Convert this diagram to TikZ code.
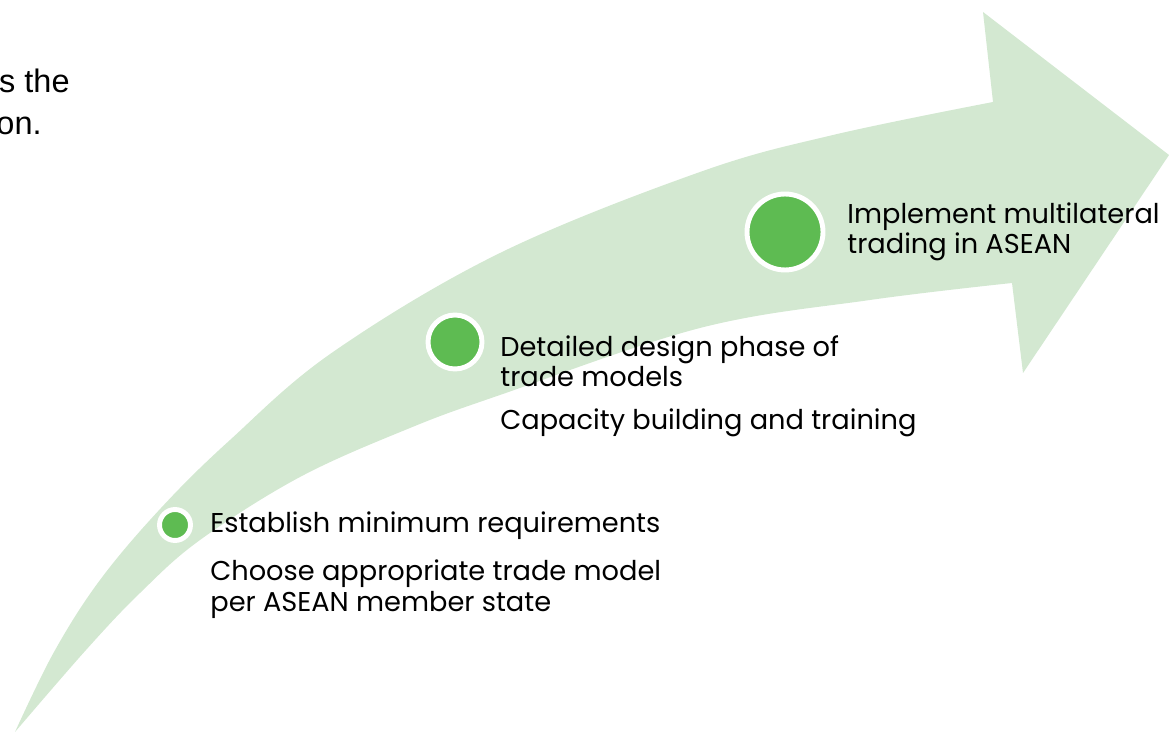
\documentclass[tikz,border=0pt]{standalone}
\usepackage{fontspec}
\setmainfont{Poppins}
\newfontfamily\bodyfont{Liberation Sans}
\usepackage{xcolor}
\usepackage{tikz}

\definecolor{bandgreen}{HTML}{D3E8D1}
\definecolor{dotgreen}{HTML}{5EBB52}

\tikzset{
  dot/.style={circle, fill=dotgreen, draw=white, line width=2.8pt, inner sep=0pt},
  stagetext/.style={anchor=base west, align=left, inner sep=0pt, font=\fontsize{15.5}{17.6}\selectfont},
  cuttext/.style={anchor=base east, inner sep=0pt, font=\bodyfont\fontsize{18.5}{20}\selectfont}
}

\begin{document}
\begin{tikzpicture}[x=0.02cm, y=-0.02cm]
    \useasboundingbox (0,0) rectangle (1169,732);
    % curved arrow band
    \fill[bandgreen] plot[smooth, tension=0.6] coordinates {(15,732) (54,652) (100,580) (161,508) (230,440) (333,352) (500,253) (700,172) (833,135) (993,102)}
      -- (983,12) -- (1169,155) -- (1023,373) -- (1012,283)
      -- plot[smooth, tension=0.6] coordinates {(1012,283) (870,300) (700,328) (500,395) (410,428) (300,477) (200,540) (140,593) (86,650) (15,732)} -- cycle;
    % cut off text at the left
    \node[cuttext] (cut1) at (70,93) {s the};
    \node[cuttext] (cut2) at (42,135) {on.};
    % three stages, the base of a two line text is its last line
    \node[dot, minimum size=0.62cm] (d1) at (175,525) {};
    \node[dot, minimum size=1.08cm] (d2) at (455,342) {};
    \node[dot, minimum size=1.52cm] (d3) at (785,232) {};
    \node[stagetext] (s1a) at (210,533) {Establish minimum requirements};
    \node[stagetext] (s1b) at (210,611) {Choose appropriate trade model\\per ASEAN member state};
    \node[stagetext] (s2a) at (500,387) {Detailed design phase of\\trade models};
    \node[stagetext] (s2b) at (500,430) {Capacity building and training};
    \node[stagetext] (s3) at (847,254) {Implement multilateral\\trading in ASEAN};
\end{tikzpicture}
\end{document}
